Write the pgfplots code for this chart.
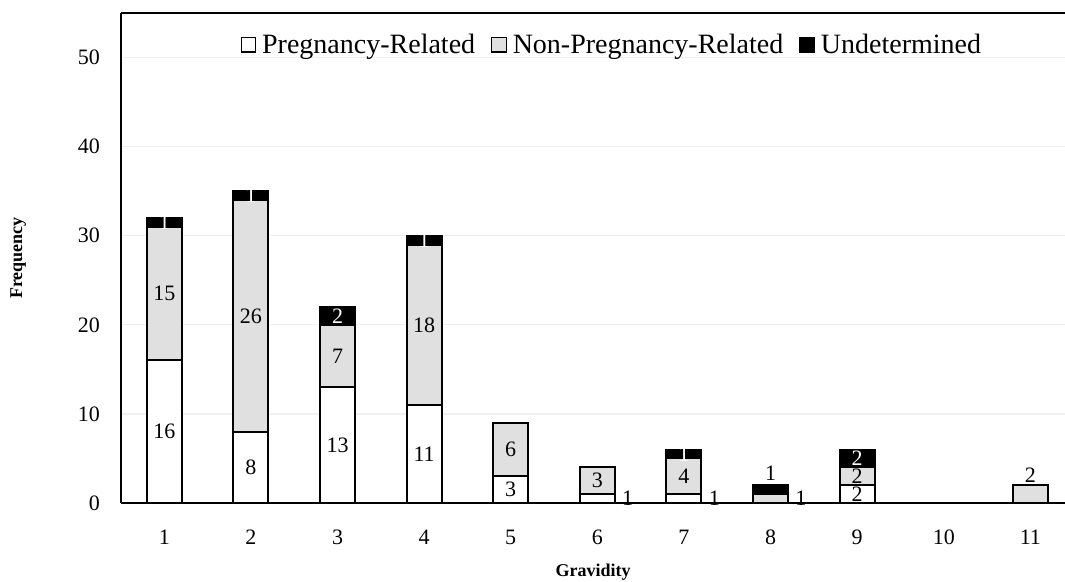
\documentclass[border=0pt]{standalone}
\usepackage{fontspec}
\setmainfont{Liberation Serif}
\usepackage{pgfplots}
\pgfplotsset{compat=1.18}
\usetikzlibrary{calc}

\definecolor{npgrey}{RGB}{224,224,224}
\definecolor{gridgrey}{RGB}{240,240,240}

\pgfplotsset{
  common/.style={
    scale only axis,
    width=472pt, height=245pt,
    xmin=0.5, xmax=11.4,
    ymin=0, ymax=55,
  },
  lab/.style={
    only marks, mark=none,
    nodes near coords,
    point meta=explicit symbolic,
    every node near coord/.append style={anchor=center, inner sep=0pt, font=\fontsize{11}{13}\selectfont, #1},
  },
}

\begin{document}
\begin{tikzpicture}
\begin{axis}[
  common,
  ybar stacked,
  bar width=17.5pt,
  axis x line=box,
  axis y line=left,
  axis line style={line width=1pt, -},
  xtick={1,...,11},
  ytick={0,10,20,30,40,50},
  major tick length=0pt,
  ymajorgrids,
  grid style={gridgrey, line width=0.6pt},
  tick label style={font=\fontsize{11}{13}\selectfont},
  /pgf/number format/assume math mode=true,
  xticklabel style={yshift=-10pt},
  yticklabel style={xshift=-7pt},
  xlabel={\textbf{Gravidity}},
  ylabel={\textbf{Frequency}},
  label style={font=\fontsize{9}{11}\selectfont},
  xlabel style={at={(axis description cs:0.5,-0.141)}, anchor=center},
  ylabel style={at={(axis description cs:-0.109,0.5)}, anchor=center},
  legend style={at={(rel axis cs:0.521,0.935)}, anchor=center, draw=none,
    fill=none, legend columns=-1, font=\fontsize{14}{16}\selectfont,
    /tikz/every odd column/.append style={column sep=1pt},
    /tikz/every even column/.append style={column sep=6pt}},
  legend image code/.code={\draw[#1, line width=0.6pt] (0pt,-3.6pt) rectangle (7.2pt,3.6pt);},
]
\addplot[fill=white, draw=black, line width=1pt] coordinates {
  (1,16) (2,8) (3,13) (4,11) (5,3) (6,1) (7,1) (8,0) (9,2) (10,0) (11,0)};
\addplot[fill=npgrey, draw=black, line width=1pt] coordinates {
  (1,15) (2,26) (3,7) (4,18) (5,6) (6,3) (7,4) (8,1) (9,2) (10,0) (11,2)};
\addplot[fill=black, draw=black, line width=1pt] coordinates {
  (1,1) (2,1) (3,2) (4,1) (5,0) (6,0) (7,1) (8,1) (9,2) (10,0) (11,0)};
\legend{Pregnancy-Related, Non-Pregnancy-Related, Undetermined}
\end{axis}

\begin{axis}[common, hide axis]
% black value labels
\addplot[lab={text=black}] table[meta=t] {
x y t
1 8 16
1 23.5 15
2 4 8
2 21 26
3 6.5 13
3 16.5 7
4 5.5 11
4 20 18
5 1.5 3
5 6 6
6.35 0.5 1
6 2.5 3
7.35 0.5 1
7 3 4
8.35 0.5 1
8 3.3 1
9 1 2
9 3 2
11 3.1 2
};
% white value labels
\addplot[lab={text=white}] table[meta=t] {
x y t
1 31.5 1
2 34.5 1
3 21 2
4 29.5 1
7 5.5 1
9 5 2
};
\end{axis}

\pgfresetboundingbox
\path ($(current axis.south west)+(-60.5pt,-39.5pt)$) rectangle ($(current axis.north east)+(0pt,6.5pt)$);
\end{tikzpicture}
\end{document}
